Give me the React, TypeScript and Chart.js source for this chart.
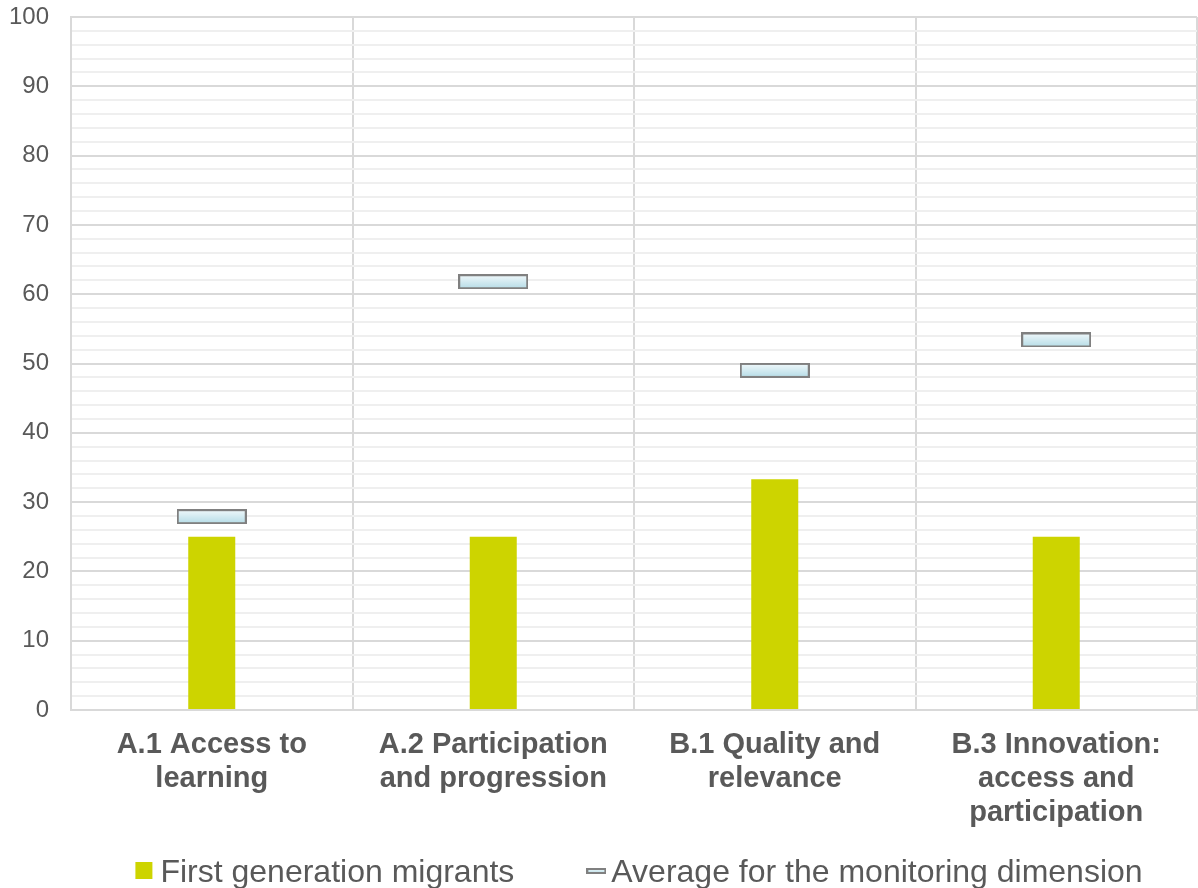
import React, { useEffect, useRef } from "react";
import { Chart, registerables } from "chart.js";

Chart.register(...registerables);

// Monitoring dimensions along the x axis (multi-line labels)
const categories: string[][] = [
  ["A.1 Access to", "learning"],
  ["A.2 Participation", "and progression"],
  ["B.1 Quality and", "relevance"],
  ["B.3 Innovation:", "access and", "participation"],
];

// Scores for first generation migrants
const firstGeneration: number[] = [25, 25, 33.3, 25];

// Average score for each monitoring dimension
const dimensionAverage: number[] = [27.9, 61.8, 49.0, 53.4];

const seriesNames: string[] = [
  "First generation migrants",
  "Average for the monitoring dimension",
];

const FONT = '"Liberation Sans", Arial, Helvetica, sans-serif';
const TEXT = "#595959";
const BAR = "#cdd400";

// Pill-shaped marker used for the average points
function makeMarker(w: number, h: number): HTMLCanvasElement {
  const c = document.createElement("canvas");
  c.width = w;
  c.height = h;
  const ctx = c.getContext("2d")!;
  const g = ctx.createLinearGradient(0, 0, 0, h);
  g.addColorStop(0, "#f3fafc");
  g.addColorStop(1, "#b3dbe6");
  ctx.fillStyle = g;
  ctx.fillRect(1, 1, w - 2, h - 2);
  ctx.strokeStyle = "#808080";
  ctx.lineWidth = 2;
  ctx.strokeRect(1, 1, w - 2, h - 2);
  return c;
}

export default function App() {
  const ref = useRef<HTMLCanvasElement | null>(null);

  useEffect(() => {
    if (!ref.current) return;
    const marker = makeMarker(70, 15);
    const legendMarker = makeMarker(20, 6);

    // Legend drawn below the axis labels
    const legendPlugin = {
      id: "bottomLegend",
      afterDraw(chart: Chart) {
        const ctx = chart.ctx;
        ctx.save();
        ctx.font = `32px ${FONT}`;
        ctx.fillStyle = TEXT;
        ctx.textBaseline = "alphabetic";
        const w1 = ctx.measureText(seriesNames[0]).width;
        const w2 = ctx.measureText(seriesNames[1]).width;
        const box = 17;
        const gap1 = 8;
        const itemGap = 72;
        const gap2 = 5;
        const total = box + gap1 + w1 + itemGap + 20 + gap2 + w2;
        const cx = (chart.chartArea.left + chart.chartArea.right) / 2 + 5;
        let x = cx - total / 2;
        const baseY = 882;
        ctx.fillStyle = BAR;
        ctx.fillRect(x, 862, box, box);
        x += box + gap1;
        ctx.fillStyle = TEXT;
        ctx.fillText(seriesNames[0], x, baseY);
        x += w1 + itemGap;
        ctx.drawImage(legendMarker, x, 868);
        x += 20 + gap2;
        ctx.fillText(seriesNames[1], x, baseY);
        ctx.restore();
      },
    };

    const chart = new Chart(ref.current, {
      type: "bar",
      data: {
        labels: categories as any,
        datasets: [
          {
            type: "line",
            label: seriesNames[1],
            data: dimensionAverage,
            showLine: false,
            pointStyle: marker as any,
            pointRadius: 8,
            order: 0,
          },
          {
            type: "bar",
            label: seriesNames[0],
            data: firstGeneration,
            backgroundColor: BAR,
            borderWidth: 0,
            categoryPercentage: 1,
            barPercentage: 0.167,
            order: 1,
          },
        ],
      },
      options: {
        responsive: false,
        animation: false,
        events: [],
        layout: {
          autoPadding: false,
          padding: { top: 17, right: 1, bottom: 58, left: 0 },
        },
        plugins: {
          legend: { display: false },
          tooltip: { enabled: false },
        },
        scales: {
          x: {
            offset: true,
            grid: {
              offset: true,
              drawTicks: false,
              color: "#d9d9d9",
              lineWidth: 2,
            },
            border: { color: "#d9d9d9", width: 2 },
            ticks: {
              color: TEXT,
              padding: 18,
              maxRotation: 0,
              autoSkip: false,
              font: { family: FONT, size: 29, weight: "bold", lineHeight: 34 / 29 },
            },
            afterFit(scale: any) {
              scale.height = 120;
              scale.paddingLeft = 0;
              scale.paddingRight = 0;
            },
          },
          y: {
            min: 0,
            max: 100,
            grid: {
              drawTicks: false,
              color: (c: any) =>
                c.tick && c.tick.value % 10 === 0 ? "#d9d9d9" : "#efefef",
              lineWidth: 2,
            },
            border: { color: "#d9d9d9", width: 2 },
            ticks: {
              stepSize: 2,
              autoSkip: false,
              color: TEXT,
              padding: 22,
              font: { family: FONT, size: 24 },
              callback: (v: any) => (Number(v) % 10 === 0 ? String(v) : ""),
            },
            afterFit(scale: any) {
              scale.width = 71;
              scale.paddingTop = 0;
              scale.paddingBottom = 0;
            },
          },
        },
      },
      plugins: [legendPlugin],
    });

    return () => chart.destroy();
  }, []);

  return (
    <div style={{ position: "absolute", left: 0, top: 0, width: 1198, height: 888 }}>
      <canvas ref={ref} width={1198} height={888} />
    </div>
  );
}
